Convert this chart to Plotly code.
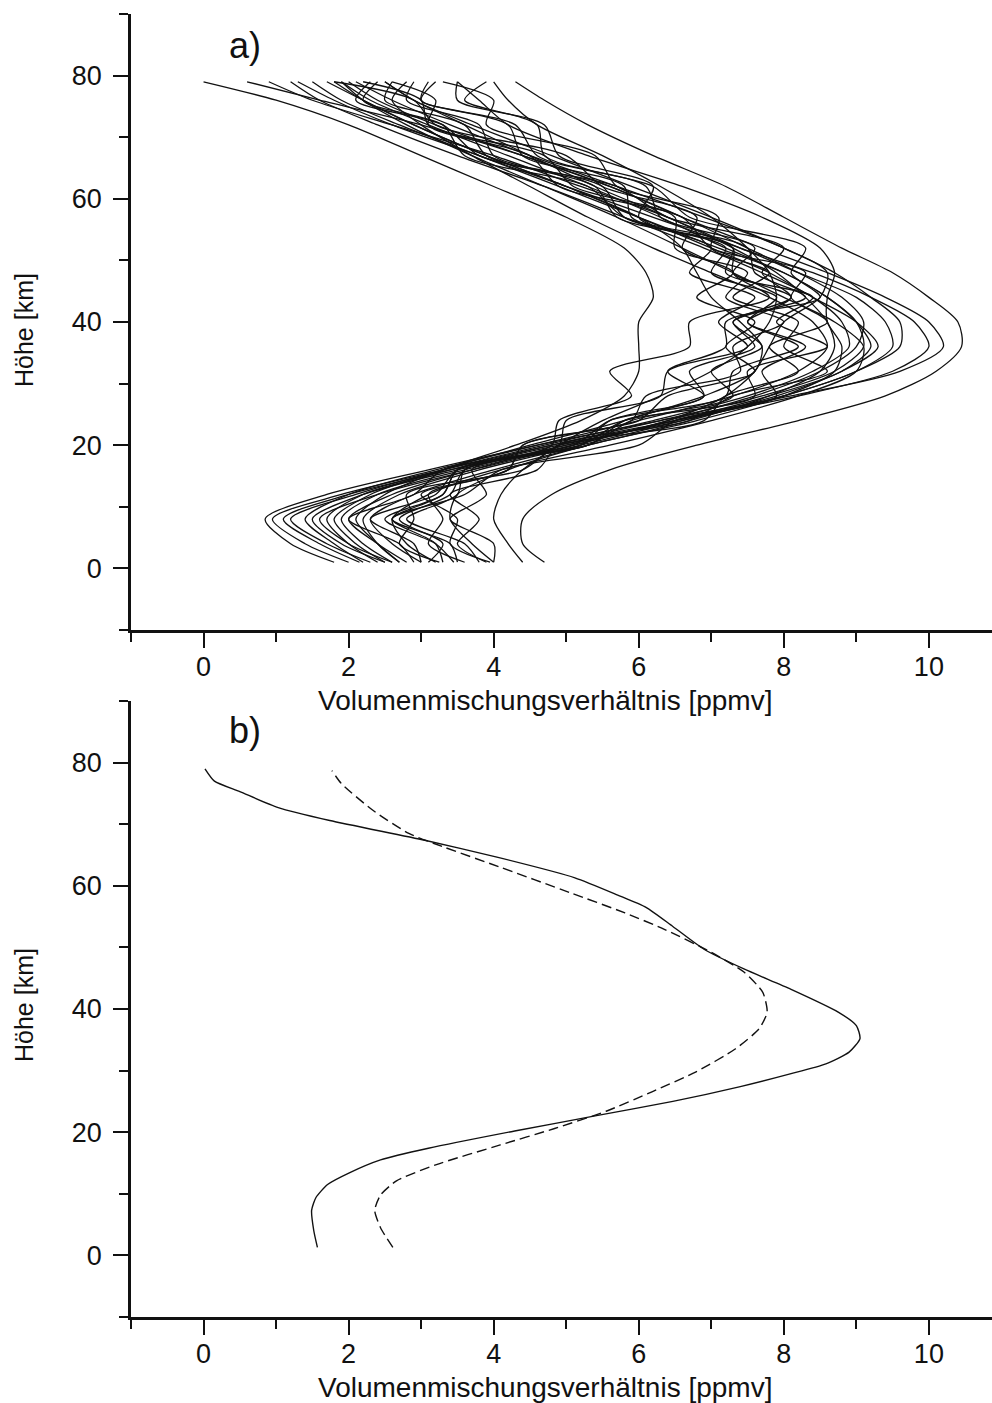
import plotly.graph_objects as go

# Altitude grid (km) shared by the individual profiles of panel a
heights_a = [1, 4, 8, 12, 16, 20, 24, 28, 32, 36, 40, 44, 48, 52, 57, 62, 67, 72, 76, 79]

# Individual volume mixing ratio profiles (ppmv), one list per profile
profiles_a = [
    [4.7, 4.4, 4.4, 4.8, 5.6, 6.8, 8.2, 9.4, 10.1, 10.45, 10.4, 10.0, 9.5, 8.8, 8.0, 7.2, 6.2, 5.3, 4.7, 4.3],
    [1.8, 1.2, 0.85, 1.7, 3.1, 4.6, 6.3, 8.1, 9.6, 10.2, 10.0, 9.4, 8.6, 7.7, 6.6, 5.6, 4.4, 3.0, 1.6, 0.6],
    [2.0, 1.4, 0.95, 1.9, 3.3, 4.8, 6.5, 8.2, 9.5, 10.0, 9.8, 9.2, 8.4, 7.4, 6.4, 5.2, 4.0, 2.6, 1.5, 0.9],
    [2.15, 1.6, 1.1, 2.0, 3.4, 4.9, 6.6, 8.0, 9.0, 9.5, 9.4, 9.0, 8.2, 7.4, 6.2, 5.0, 3.8, 2.6, 1.8, 1.3],
    [2.5, 1.9, 1.5, 2.2, 3.5, 5.0, 6.5, 7.8, 8.8, 9.2, 9.0, 8.6, 8.0, 7.2, 6.3, 5.3, 4.2, 3.1, 2.3, 1.9],
    [2.6, 2.2, 1.9, 2.4, 3.6, 5.1, 6.4, 7.6, 8.5, 9.0, 9.1, 8.8, 8.2, 7.5, 6.6, 5.6, 4.4, 3.2, 2.4, 2.0],
    [2.7, 2.4, 2.2, 2.7, 3.8, 5.2, 6.6, 7.9, 8.8, 9.3, 9.0, 8.4, 7.8, 7.0, 6.0, 5.0, 3.9, 2.9, 2.2, 1.7],
    [3.0, 2.6, 2.3, 2.9, 4.0, 5.3, 6.7, 7.8, 8.5, 8.7, 8.6, 8.3, 7.9, 7.3, 6.4, 5.4, 4.5, 3.6, 2.9, 2.5],
    [3.1, 3.3, 2.7, 3.4, 3.6, 5.2, 5.8, 7.6, 7.5, 8.6, 7.9, 8.4, 7.2, 7.3, 5.7, 5.4, 3.9, 3.6, 2.5, 2.6],
    [3.25, 2.7, 2.9, 2.8, 4.4, 4.9, 6.9, 7.2, 8.2, 7.8, 8.6, 8.1, 8.3, 7.0, 6.6, 4.9, 4.5, 3.1, 3.2, 2.6],
    [3.45, 3.2, 2.5, 3.3, 3.5, 5.1, 5.6, 7.2, 7.3, 8.2, 7.5, 7.9, 7.0, 7.2, 5.9, 5.8, 4.4, 4.2, 3.0, 3.1],
    [3.8, 3.6, 2.8, 3.5, 3.6, 5.2, 5.6, 6.9, 6.7, 7.6, 7.3, 8.1, 7.3, 7.3, 5.8, 5.5, 4.0, 3.8, 2.8, 2.9],
    [3.95, 3.4, 3.5, 3.0, 4.2, 4.4, 5.9, 6.1, 7.4, 7.3, 8.0, 7.2, 7.5, 6.5, 6.5, 5.1, 4.7, 3.1, 3.0, 2.2],
    [4.0, 4.0, 3.4, 3.9, 3.7, 4.9, 5.0, 6.3, 6.4, 7.5, 7.1, 7.6, 6.7, 7.0, 6.0, 6.2, 4.9, 4.7, 3.5, 3.5],
    [4.4, 4.2, 4.0, 4.1, 4.4, 4.9, 5.5, 6.3, 7.0, 7.5, 7.8, 7.9, 7.8, 7.5, 7.0, 6.3, 5.5, 4.6, 4.2, 4.0],
    [2.7, 2.4, 2.1, 2.5, 3.3, 4.3, 5.2, 5.8, 6.0, 6.0, 6.0, 6.2, 6.1, 5.8, 5.0, 4.0, 3.0, 2.0, 1.0, 0.0],
    [2.3, 1.7, 1.2, 2.1, 3.3, 4.7, 6.2, 7.5, 8.4, 8.9, 8.8, 8.4, 7.7, 6.9, 5.8, 4.7, 3.5, 2.4, 1.6, 1.2],
    [2.9, 2.7, 2.0, 2.9, 3.3, 5.3, 5.9, 7.3, 7.0, 7.7, 7.3, 8.3, 7.6, 7.5, 5.8, 5.3, 3.6, 3.3, 2.2, 2.4],
    [3.5, 3.4, 2.6, 3.3, 3.5, 4.8, 4.9, 5.9, 5.6, 6.7, 6.7, 7.8, 7.3, 7.6, 6.3, 6.1, 4.7, 4.6, 3.6, 3.9],
    [2.6, 2.0, 1.6, 2.4, 3.7, 5.1, 6.4, 7.2, 7.6, 7.8, 8.0, 8.5, 8.6, 8.0, 6.9, 5.7, 4.5, 3.4, 2.6, 2.1],
    [3.2, 2.8, 2.6, 3.1, 4.1, 5.6, 7.0, 8.2, 9.0, 9.1, 8.7, 8.0, 7.3, 6.6, 5.7, 4.7, 3.7, 2.8, 2.2, 1.9],
    [3.9, 3.5, 3.8, 3.4, 4.6, 4.9, 6.7, 7.3, 8.6, 8.0, 8.2, 7.3, 7.8, 7.0, 7.1, 5.7, 5.4, 3.9, 4.0, 3.3],
    [2.5, 2.1, 1.8, 2.3, 3.3, 4.5, 5.8, 6.9, 7.6, 7.7, 7.4, 7.0, 6.8, 6.6, 6.0, 5.0, 3.9, 2.9, 2.2, 1.8],
    [3.0, 2.9, 2.3, 3.2, 3.5, 5.3, 5.8, 6.9, 6.4, 7.2, 7.2, 8.5, 8.1, 8.3, 6.7, 6.2, 4.6, 4.3, 3.0, 3.2],
    [2.8, 2.4, 2.0, 2.6, 3.7, 5.0, 6.5, 8.0, 9.0, 9.6, 9.6, 9.2, 8.7, 8.0, 7.0, 5.9, 4.8, 3.7, 2.9, 2.5],
    [3.6, 3.1, 3.3, 3.1, 4.2, 4.4, 6.0, 6.4, 7.6, 7.2, 7.6, 6.8, 7.3, 6.6, 6.8, 5.5, 5.0, 3.2, 2.9, 1.8],
    [4.0, 3.7, 3.4, 3.5, 4.2, 5.3, 6.8, 8.0, 8.7, 8.8, 8.6, 8.6, 8.7, 8.5, 7.7, 6.6, 5.3, 4.2, 3.8, 3.5],
    [2.2, 1.8, 1.4, 2.0, 3.2, 4.6, 6.0, 7.3, 8.2, 8.6, 8.4, 7.8, 7.0, 6.2, 5.3, 4.5, 3.7, 3.0, 2.6, 2.8],
    [3.3, 3.2, 2.6, 3.6, 4.1, 6.0, 6.5, 7.9, 7.7, 8.3, 7.5, 8.1, 7.7, 8.0, 6.4, 5.7, 3.8, 3.3, 2.1, 2.3],
    [2.4, 2.0, 1.7, 2.2, 3.4, 4.8, 6.3, 7.7, 8.7, 9.1, 9.0, 8.6, 8.0, 7.1, 6.0, 4.9, 3.8, 2.7, 1.9, 1.5],
]

# Panel b: two mean profiles
heights_solid = [1.3, 4.0, 7.3, 9.4, 11.5, 13.4, 15.5, 17.4, 20.2, 22.6, 25.0, 27.4, 29.5, 31.1, 33.0,
                 35.2, 37.3, 39.5, 43.2, 46.5, 49.7, 53.4, 56.5, 58.5, 61.3, 64.7, 67.4, 70.6, 72.7,
                 75.3, 77.0, 79.0]
vmr_solid = [1.57, 1.52, 1.49, 1.55, 1.71, 2.01, 2.44, 3.1, 4.29, 5.38, 6.47, 7.4, 8.1, 8.58, 8.9,
             9.05, 9.0, 8.75, 8.1, 7.45, 6.9, 6.47, 6.1, 5.71, 5.12, 4.03, 3.05, 1.74, 1.03,
             0.5, 0.15, 0.02]

heights_dashed = [1.3, 4.5, 7.3, 9.8, 12.1, 14.7, 17.9, 20.6, 23.4, 26.6, 29.8, 33.5, 36.8, 39.5,
                  42.7, 46.0, 49.2, 52.9, 55.6, 58.9, 63.1, 66.3, 68.5, 72.3, 76.6, 78.7]
vmr_dashed = [2.61, 2.44, 2.36, 2.44, 2.66, 3.2, 4.08, 4.84, 5.55, 6.19, 6.79, 7.33, 7.66, 7.77,
              7.71, 7.45, 7.0, 6.36, 5.81, 5.05, 4.07, 3.31, 2.83, 2.33, 1.9, 1.77]

x_title = "Volumenmischungsverhältnis [ppmv]"
y_title = "Höhe [km]"
FONT = "Liberation Sans, Arial, sans-serif"

W, H = 992, 1403

fig = go.Figure()

for prof in profiles_a:
    fig.add_trace(go.Scatter(
        x=prof, y=heights_a, mode="lines", xaxis="x", yaxis="y",
        line=dict(color="#111111", width=1.3, shape="spline", smoothing=0.8),
        showlegend=False, hoverinfo="skip"))

fig.add_trace(go.Scatter(
    x=vmr_solid, y=heights_solid, mode="lines", xaxis="x2", yaxis="y2",
    line=dict(color="#111111", width=1.4, shape="spline", smoothing=0.6),
    showlegend=False))
fig.add_trace(go.Scatter(
    x=vmr_dashed, y=heights_dashed, mode="lines", xaxis="x2", yaxis="y2",
    line=dict(color="#111111", width=1.4, shape="spline", smoothing=0.6, dash="10px,5px"),
    showlegend=False))

# panel geometry in pixels
left_px = 131
a_top, a_bot = 14, 630
b_top, b_bot = 701, 1317


def ydom(top, bot):
    return [1 - bot / H, 1 - top / H]


common_x = dict(
    range=[-1.0, 10.87], tick0=0, dtick=2, ticks="outside", ticklen=15, tickwidth=2,
    ticklabelstandoff=-4,
    tickcolor="#111", showline=True, linewidth=2.5, linecolor="#111", showgrid=False,
    zeroline=False, tickfont=dict(family=FONT, size=27, color="#111"),
    minor=dict(tick0=1, dtick=1, ticks="outside", ticklen=9, tickwidth=2, tickcolor="#111"),
    domain=[left_px / W, 1.0],
)
common_y = dict(
    range=[-10, 90], tickvals=[0, 20, 40, 60, 80],
    ticks="outside", ticklen=15, tickwidth=2, ticklabelstandoff=6,
    tickcolor="#111", showline=True, linewidth=2.5, linecolor="#111", showgrid=False,
    zeroline=False, tickfont=dict(family=FONT, size=27, color="#111"),
    minor=dict(tickvals=[-10, 10, 30, 50, 70, 90], ticks="outside", ticklen=9, tickwidth=2,
               tickcolor="#111"),
)

fig.update_layout(
    width=W, height=H,
    margin=dict(l=0, r=0, t=0, b=0),
    paper_bgcolor="white", plot_bgcolor="white",
    xaxis=dict(**common_x, anchor="y"),
    yaxis=dict(**common_y, domain=ydom(a_top, a_bot), anchor="x"),
    xaxis2=dict(**common_x, anchor="y2"),
    yaxis2=dict(**common_y, domain=ydom(b_top, b_bot), anchor="x2"),
    font=dict(family=FONT, color="#111"),
)

ann = []
for label, ly, tx_y, yt_y in [("a)", 45, 700, 330), ("b)", 730, 1387, 1005)]:
    ann.append(dict(text=label, x=245 / W, y=1 - ly / H, xref="paper", yref="paper",
                    showarrow=False, font=dict(family=FONT, size=36, color="#111"),
                    xanchor="center", yanchor="middle"))
    ann.append(dict(text=x_title, x=545 / W, y=1 - tx_y / H, xref="paper", yref="paper",
                    showarrow=False, font=dict(family=FONT, size=28, color="#111"),
                    xanchor="center", yanchor="middle"))
    ann.append(dict(text=y_title, x=24 / W, y=1 - yt_y / H, xref="paper", yref="paper",
                    showarrow=False, textangle=-90, font=dict(family=FONT, size=25, color="#111"),
                    xanchor="center", yanchor="middle"))
fig.update_layout(annotations=ann)

fig.write_html("out.html")
